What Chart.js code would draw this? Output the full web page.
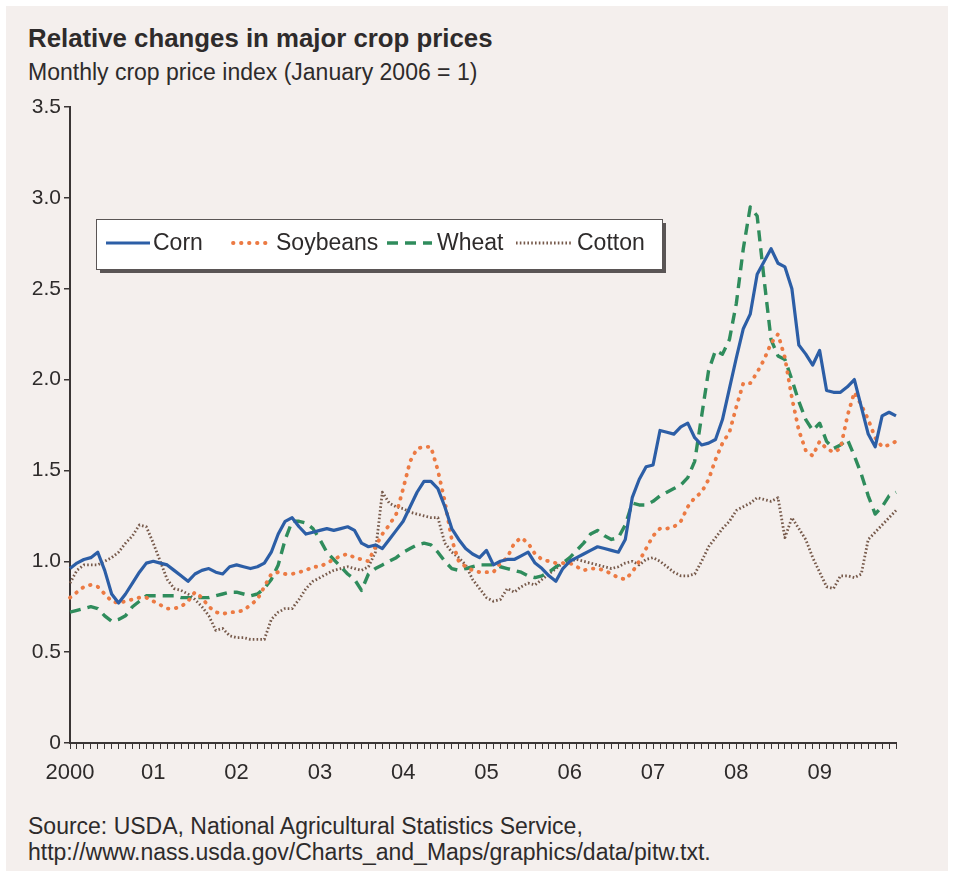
<!DOCTYPE html>
<html>
<head>
<meta charset="utf-8">
<script src="https://cdn.jsdelivr.net/npm/chart.js@4.4.0/dist/chart.umd.min.js"></script>
<style>
    html, body { margin: 0; padding: 0; background: #ffffff; }
    body { width: 954px; height: 877px; position: relative; overflow: hidden; font-family: "Liberation Sans", Arial, sans-serif; color: #2e2b2b; }
    .panel { position: absolute; left: 6px; top: 6px; width: 942px; height: 865px; background: #f4efed; }
    .title { position: absolute; left: 28px; top: 24px; font-size: 25.8px; line-height: 28px; font-weight: bold; white-space: nowrap; }
    .subtitle { position: absolute; left: 28px; top: 59px; font-size: 23px; line-height: 26px; white-space: nowrap; }
    .source { position: absolute; left: 28px; top: 813px; font-size: 23px; line-height: 26px; white-space: nowrap; }
    .chart-box { position: absolute; left: 0; top: 90px; width: 954px; height: 720px; }
</style>
</head>
<body>
<div class="panel"></div>
<div class="title">Relative changes in major crop prices</div>
<div class="subtitle">Monthly crop price index (January 2006 = 1)</div>
<div class="chart-box"><canvas id="cropChart" width="954" height="720"></canvas></div>
<div class="source">Source: USDA, National Agricultural Statistics Service,<br>http://www.nass.usda.gov/Charts_and_Maps/graphics/data/pitw.txt.</div>

<script>
// Monthly index, Jan 2000 - Dec 2009 (January 2006 = 1)
const YEARS = ['2000', '01', '02', '03', '04', '05', '06', '07', '08', '09'];

const corn = [
    0.96, 0.99, 1.01, 1.02, 1.05, 0.95, 0.82, 0.77, 0.82, 0.88, 0.94, 0.99,
    1.00, 0.99, 0.98, 0.95, 0.92, 0.89, 0.93, 0.95, 0.96, 0.94, 0.93, 0.97,
    0.98, 0.97, 0.96, 0.97, 0.99, 1.05, 1.15, 1.22, 1.24, 1.19, 1.15, 1.16,
    1.17, 1.18, 1.17, 1.18, 1.19, 1.17, 1.10, 1.08, 1.09, 1.07, 1.12, 1.17,
    1.22, 1.30, 1.38, 1.44, 1.44, 1.40, 1.30, 1.18, 1.12, 1.07, 1.04, 1.02,
    1.06, 0.98, 1.00, 1.01, 1.01, 1.03, 1.05, 0.99, 0.96, 0.92, 0.89, 0.96,
    1.00, 1.02, 1.04, 1.06, 1.08, 1.07, 1.06, 1.05, 1.12, 1.35, 1.45, 1.52,
    1.53, 1.72, 1.71, 1.70, 1.74, 1.76, 1.68, 1.64, 1.65, 1.67, 1.78, 1.95,
    2.12, 2.28, 2.36, 2.58, 2.65, 2.72, 2.64, 2.62, 2.50, 2.19, 2.14, 2.08,
    2.16, 1.94, 1.93, 1.93, 1.96, 2.00, 1.85, 1.70, 1.63, 1.80, 1.82, 1.80
];

const soybeans = [
    0.80, 0.83, 0.86, 0.87, 0.86, 0.82, 0.78, 0.77, 0.78, 0.79, 0.80, 0.80,
    0.78, 0.76, 0.74, 0.74, 0.75, 0.78, 0.83, 0.80, 0.75, 0.72, 0.71, 0.72,
    0.72, 0.73, 0.76, 0.79, 0.86, 0.93, 0.94, 0.93, 0.93, 0.94, 0.95, 0.97,
    0.97, 0.99, 1.01, 1.03, 1.04, 1.02, 1.01, 1.00, 1.08, 1.15, 1.20, 1.26,
    1.40, 1.55, 1.62, 1.63, 1.63, 1.50, 1.33, 1.12, 1.00, 0.97, 0.95, 0.94,
    0.94, 0.94, 0.99, 1.02, 1.10, 1.13, 1.10, 1.04, 1.01, 1.00, 0.99, 0.99,
    0.99, 0.97, 0.95, 0.96, 0.96, 0.95, 0.93, 0.91, 0.90, 0.94, 1.00, 1.07,
    1.14, 1.18, 1.18, 1.19, 1.22, 1.30, 1.35, 1.38, 1.45, 1.56, 1.65, 1.71,
    1.85, 1.98, 1.98, 2.04, 2.11, 2.20, 2.25, 2.12, 1.90, 1.72, 1.61, 1.58,
    1.66, 1.62, 1.60, 1.62, 1.80, 1.93, 1.86, 1.78, 1.68, 1.63, 1.64, 1.66
];

const wheat = [
    0.72, 0.73, 0.74, 0.75, 0.74, 0.70, 0.67, 0.68, 0.70, 0.75, 0.78, 0.81,
    0.81, 0.81, 0.81, 0.81, 0.80, 0.80, 0.80, 0.80, 0.80, 0.81, 0.82, 0.83,
    0.83, 0.82, 0.81, 0.82, 0.85, 0.90, 0.98, 1.12, 1.22, 1.22, 1.21, 1.18,
    1.12, 1.05, 1.01, 0.97, 0.93, 0.90, 0.84, 0.93, 0.96, 0.98, 1.00, 1.02,
    1.05, 1.07, 1.09, 1.10, 1.09, 1.05, 1.00, 0.96, 0.95, 0.96, 0.97, 0.98,
    0.98, 0.98, 0.97, 0.96, 0.95, 0.94, 0.92, 0.91, 0.92, 0.94, 0.97, 0.99,
    1.02, 1.06, 1.10, 1.15, 1.17, 1.14, 1.12, 1.13, 1.20, 1.32, 1.31, 1.31,
    1.33, 1.36, 1.38, 1.40, 1.42, 1.46, 1.55, 1.80, 2.05, 2.16, 2.14, 2.22,
    2.42, 2.72, 2.95, 2.90, 2.55, 2.22, 2.13, 2.11, 2.00, 1.88, 1.78, 1.72,
    1.76, 1.66, 1.62, 1.64, 1.67, 1.58, 1.48, 1.36, 1.26, 1.30, 1.36, 1.38
];

const cotton = [
    0.88, 0.95, 0.98, 0.98, 0.98, 1.00, 1.02, 1.05, 1.10, 1.14, 1.20, 1.19,
    1.10, 1.00, 0.90, 0.85, 0.84, 0.82, 0.79, 0.75, 0.70, 0.62, 0.63, 0.59,
    0.58, 0.58, 0.57, 0.57, 0.57, 0.68, 0.72, 0.74, 0.74, 0.79, 0.85, 0.89,
    0.91, 0.93, 0.95, 0.96, 0.97, 0.96, 0.95, 0.97, 1.05, 1.38, 1.32, 1.30,
    1.29, 1.27, 1.26, 1.25, 1.24, 1.24, 1.10, 1.05, 1.02, 0.98, 0.90, 0.85,
    0.80, 0.78, 0.79, 0.85, 0.83, 0.86, 0.88, 0.87, 0.90, 0.93, 0.96, 0.99,
    1.00, 1.01, 1.00, 0.99, 0.98, 0.97, 0.96, 0.97, 0.99, 1.00, 0.98, 1.01,
    1.02, 1.00, 0.97, 0.94, 0.92, 0.92, 0.93, 1.00, 1.08, 1.13, 1.18, 1.22,
    1.28, 1.30, 1.32, 1.35, 1.34, 1.33, 1.35, 1.13, 1.24, 1.18, 1.12, 1.02,
    0.94, 0.86, 0.85, 0.92, 0.92, 0.91, 0.93, 1.12, 1.16, 1.20, 1.24, 1.28
];

// one label per month, year label on each January
const months = [];
YEARS.forEach(y => {
    for (let m = 0; m < 12; m++) months.push(m === 0 ? y : '');
});

const FONT = '"Liberation Sans", Arial, sans-serif';
const TEXT_COLOR = '#2e2b2b';
const AXIS_COLOR = '#3a3535';

const SERIES = [
    { label: 'Corn', data: corn, color: '#2c5ea6', width: 3.2, dash: [], cap: 'butt' },
    { label: 'Soybeans', data: soybeans, color: '#ec7a43', width: 3.8, dash: [0.5, 7.5], cap: 'round' },
    { label: 'Wheat', data: wheat, color: '#2f8c5c', width: 3.4, dash: [11, 7], cap: 'butt' },
    { label: 'Cotton', data: cotton, color: '#76594a', width: 2.8, dash: [1.6, 2.2], cap: 'butt' }
];

// legend drawn inside the plot, as a white box with a shadow
const boxLegend = {
    id: 'boxLegend',
    afterDraw(chart) {
        const ctx = chart.ctx;
        const x = 96, y = 129, w = 566, h = 50;
        ctx.save();
        ctx.fillStyle = '#5a5555';
        ctx.fillRect(x + 4, y + 4, w, h);
        ctx.fillStyle = '#ffffff';
        ctx.fillRect(x, y, w, h);
        ctx.strokeStyle = '#5a5555';
        ctx.lineWidth = 1;
        ctx.strokeRect(x + 0.5, y + 0.5, w, h);

        const items = [
            { s: SERIES[0], x0: 106, x1: 150, tx: 153 },
            { s: SERIES[1], x0: 233, x1: 272, tx: 276 },
            { s: SERIES[2], x0: 387, x1: 432, tx: 437 },
            { s: SERIES[3], x0: 516, x1: 572, tx: 577 }
        ];
        const cy = y + h / 2 - 1;
        items.forEach(it => {
            ctx.beginPath();
            ctx.strokeStyle = it.s.color;
            ctx.lineWidth = it.s.width;
            ctx.lineCap = it.s.cap;
            ctx.setLineDash(it.s.dash);
            ctx.moveTo(it.x0, cy);
            ctx.lineTo(it.x1, cy);
            ctx.stroke();
            ctx.setLineDash([]);
            ctx.fillStyle = TEXT_COLOR;
            ctx.font = '23px ' + FONT;
            ctx.textBaseline = 'middle';
            ctx.fillText(it.s.label, it.tx, cy + 1);
        });
        ctx.restore();
    }
};

const ctx = document.getElementById('cropChart').getContext('2d');

new Chart(ctx, {
    type: 'line',
    data: {
        labels: months,
        datasets: SERIES.map(s => ({
            label: s.label,
            data: s.data,
            borderColor: s.color,
            backgroundColor: s.color,
            borderWidth: s.width,
            borderDash: s.dash,
            borderCapStyle: s.cap,
            borderJoinStyle: 'round',
            pointRadius: 0,
            tension: 0,
            fill: false
        }))
    },
    options: {
        responsive: false,
        animation: false,
        layout: { padding: { top: 17, right: 58, left: 0, bottom: 0 } },
        plugins: {
            legend: { display: false },
            tooltip: { enabled: false }
        },
        scales: {
            x: {
                offset: false,
                grid: {
                    drawOnChartArea: false,
                    drawTicks: true,
                    tickLength: 6,
                    color: AXIS_COLOR,
                    lineWidth: 1
                },
                border: { display: true, color: AXIS_COLOR, width: 2 },
                ticks: {
                    autoSkip: false,
                    maxRotation: 0,
                    padding: 11,
                    color: TEXT_COLOR,
                    font: { family: FONT, size: 22 },
                    callback: function (value) { return months[value]; }
                },
                afterFit: function (scale) { scale.height = 67; }
            },
            y: {
                min: 0,
                max: 3.5,
                grid: {
                    drawOnChartArea: false,
                    drawTicks: true,
                    tickLength: 6,
                    color: AXIS_COLOR,
                    lineWidth: 1.5
                },
                border: { display: true, color: AXIS_COLOR, width: 2 },
                ticks: {
                    stepSize: 0.5,
                    padding: 3,
                    color: TEXT_COLOR,
                    font: { family: FONT, size: 21 },
                    callback: function (value) { return value === 0 ? '0' : value.toFixed(1); }
                },
                afterFit: function (scale) { scale.width = 70; }
            }
        }
    },
    plugins: [boxLegend]
});
</script>
</body>
</html>
